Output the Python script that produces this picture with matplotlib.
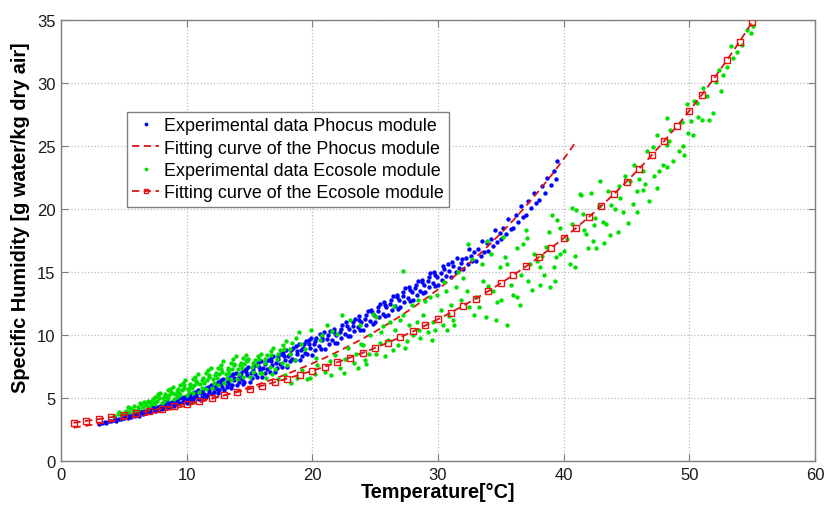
import matplotlib
matplotlib.use("Agg")
import matplotlib.pyplot as plt
from matplotlib.ticker import MultipleLocator

plt.rcParams['font.family'] = ['Liberation Sans', 'DejaVu Sans']

# ---------------- data ----------------
phocus_pts = [
    (3.0,2.95),(3.3,3.05),(3.6,3.0),(3.8,3.15),(3.5,3.1),
    (4.0,3.15),(4.2,3.25),(4.4,3.2),(4.6,3.35),(4.8,3.3),(4.3,3.4),(4.9,3.45),
    (5.0,3.4),(5.1,3.55),(5.3,3.45),(5.5,3.6),(5.6,3.5),(5.8,3.7),(5.9,3.55),(5.4,3.75),
    (6.0,3.65),(6.1,3.8),(6.2,3.6),(6.4,3.9),(6.5,3.75),(6.6,3.95),(6.8,3.8),(6.9,4.05),(6.3,4.0),
    (7.0,3.9),(7.1,4.1),(7.2,3.85),(7.4,4.2),(7.5,4.0),(7.6,4.3),(7.7,4.05),(7.9,4.35),(7.3,4.25),(7.8,4.15),
    (8.0,4.1),(8.1,4.4),(8.2,4.2),(8.3,4.5),(8.5,4.3),(8.6,4.6),(8.7,4.25),(8.8,4.7),(8.9,4.45),(8.4,4.75),
    (9.0,4.4),(9.1,4.75),(9.2,4.5),(9.3,4.9),(9.5,4.6),(9.6,5.0),(9.7,4.7),(9.8,5.1),(9.9,4.85),(9.4,5.15),
    (10.0,4.6),(10.1,5.0),(10.2,4.8),(10.3,5.3),(10.4,4.9),(10.5,5.4),(10.6,5.1),(10.7,5.5),(10.8,5.0),(10.9,5.6),(10.5,4.75),
    (11.0,4.95),(11.1,5.4),(11.2,5.1),(11.3,5.7),(11.4,5.3),(11.5,5.8),(11.6,5.2),(11.7,5.9),(11.8,5.5),(11.9,6.0),(11.5,5.05),
    (12.0,5.3),(12.1,5.8),(12.2,5.5),(12.3,6.1),(12.4,5.7),(12.5,6.3),(12.6,5.6),(12.7,6.4),(12.8,5.9),(12.9,6.5),(12.5,5.4),
    (13.0,5.6),(13.1,6.2),(13.2,5.9),(13.3,6.6),(13.4,6.1),(13.5,6.8),(13.6,6.0),(13.7,6.9),(13.8,6.4),(13.9,7.0),(13.5,5.8),
    (14.0,6.0),(14.1,6.6),(14.2,6.3),(14.3,7.0),(14.4,6.5),(14.5,7.2),(14.6,6.3),(14.7,7.3),(14.8,6.8),(14.9,7.5),(14.5,6.1),
    (15.0,6.3),(15.1,7.0),(15.2,6.6),(15.3,7.5),(15.4,6.9),(15.5,7.6),(15.6,6.7),(15.7,7.8),(15.8,7.2),(15.9,7.9),
    (16.0,6.7),(16.1,7.4),(16.2,7.0),(16.3,7.9),(16.4,7.3),(16.5,8.0),(16.6,7.1),(16.7,8.2),(16.8,7.6),(16.9,8.3),
    (17.0,7.1),(17.1,7.8),(17.2,7.4),(17.3,8.3),(17.4,7.7),(17.5,8.5),(17.6,7.5),(17.7,8.6),(17.8,8.0),(17.9,8.8),
    (18.0,7.5),(18.1,8.3),(18.2,7.9),(18.3,8.8),(18.4,8.1),(18.5,9.0),(18.6,8.0),(18.7,9.1),(18.8,8.5),(18.9,9.3),
    (19.0,8.0),(19.1,8.8),(19.2,8.3),(19.3,9.3),(19.4,8.6),(19.5,9.5),(19.6,8.5),(19.7,9.6),(19.8,9.0),(19.9,9.8),
    (20.0,8.4),(20.1,9.3),(20.2,8.8),(20.3,9.8),(20.5,9.1),(20.6,10.1),(20.7,8.9),(20.8,9.6),(20.9,10.2),
    (21.0,8.9),(21.2,9.7),(21.3,9.3),(21.4,10.3),(21.6,9.6),(21.7,10.5),(21.8,9.4),(21.9,10.0),
    (22.0,9.4),(22.2,10.2),(22.3,9.8),(22.4,10.8),(22.6,10.1),(22.7,11.0),(22.8,9.9),(22.9,10.5),
    (23.0,9.9),(23.2,10.7),(23.3,10.3),(23.4,11.3),(23.6,10.6),(23.7,11.5),(23.8,10.4),(23.9,11.0),
    (24.0,10.4),(24.2,11.3),(24.3,10.8),(24.4,11.9),(24.6,11.1),(24.7,12.0),(24.8,10.9),(24.9,11.6),
    (25.0,11.0),(25.2,11.9),(25.3,11.4),(25.4,12.5),(25.6,11.7),(25.7,12.6),(25.8,11.5),(25.9,12.2),
    (26.0,11.6),(26.2,12.5),(26.3,12.0),(26.4,13.1),(26.6,12.3),(26.7,13.2),(26.8,12.1),(26.9,12.8),
    (27.0,12.2),(27.2,13.1),(27.3,12.6),(27.4,13.7),(27.6,12.9),(27.7,13.8),(27.8,12.7),(27.9,13.4),
    (28.0,12.8),(28.2,13.7),(28.3,13.2),(28.4,14.3),(28.6,13.5),(28.7,14.4),(28.8,13.3),(28.9,14.0),
    (29.0,13.4),(29.2,14.3),(29.3,13.8),(29.4,14.9),(29.6,14.1),(29.7,15.0),(29.8,13.9),(29.9,14.6),
    (30.0,14.0),(30.2,14.9),(30.3,14.4),(30.4,15.5),(30.6,14.7),(30.8,15.6),(30.9,15.1),
    (31.0,14.6),(31.2,15.5),(31.4,15.0),(31.5,16.1),(31.7,15.3),(31.9,16.0),
    (32.0,15.2),(32.2,16.1),(32.4,15.6),(32.5,16.8),(32.7,15.9),(32.9,16.6),
    (33.0,15.9),(33.2,16.8),(33.4,16.3),(33.5,17.5),(33.7,16.6),(33.9,17.3),
    (34.0,16.7),(34.2,17.6),(34.4,17.1),(34.5,18.3),(34.7,17.4),(34.9,18.1),
    (35.0,17.6),(35.2,18.5),(35.4,18.0),(35.6,19.2),(35.8,18.4),
    (36.0,18.5),(36.2,19.5),(36.4,19.0),(36.6,20.2),(36.8,19.4),
    (37.0,19.5),(37.2,20.6),(37.4,20.1),(37.6,21.3),(37.8,20.5),
    (38.0,20.7),(38.3,21.8),(38.5,21.3),(38.7,22.5),
    (39.0,21.9),(39.2,23.0),(39.4,22.4),(39.5,23.8),
    # extra readings in the densest part of the cloud
    (8.25,4.35),(8.75,4.55),(9.25,4.65),(9.75,4.95),(10.25,5.05),(10.75,5.25),
    (11.25,5.45),(11.75,5.65),(12.25,5.9),(12.75,6.15),(13.25,6.35),(13.75,6.6),
    (14.25,6.8),(14.75,7.05),(15.25,7.25),(15.75,7.5),(16.25,7.7),(16.75,7.9),
    (17.25,8.1),(17.75,8.3),(18.25,8.5),(18.75,8.75),(19.25,9.0),(19.75,9.25),
    (20.25,9.5),(20.75,9.75),(21.25,10.0),(21.75,10.2),(22.25,10.5),(22.75,10.7),
    (23.25,11.0),(23.75,11.2),(24.25,11.55),(24.75,11.8),(25.25,12.2),(25.75,12.4),
    (26.25,12.8),(26.75,13.0),(27.25,13.4),(27.75,13.6),(28.25,14.0),(28.75,14.2),
    (29.25,14.6),(29.75,14.8),(30.5,15.2),(31.1,15.8),(31.8,15.7),(32.6,16.3),
]
phocus_T = [p[0] for p in phocus_pts]
phocus_q = [p[1] for p in phocus_pts]

ecosole_pts = [
    (4.2,3.6),(4.5,3.75),(4.8,3.7),(4.6,3.9),
    (5.0,3.8),(5.2,4.0),(5.4,3.9),(5.5,4.2),(5.7,4.05),(5.8,4.35),(5.3,4.3),
    (6.0,4.0),(6.1,4.3),(6.2,4.15),(6.4,4.5),(6.5,4.3),(6.6,4.7),(6.8,4.45),(6.9,4.8),(6.3,4.6),
    (7.0,4.3),(7.1,4.65),(7.2,4.5),(7.3,4.95),(7.4,4.7),(7.5,5.1),(7.6,4.8),(7.7,5.3),(7.8,5.0),(7.9,5.4),(7.5,4.55),
    (8.0,4.6),(8.1,5.0),(8.2,4.8),(8.3,5.3),(8.4,5.05),(8.5,5.6),(8.6,5.2),(8.7,5.75),(8.8,5.4),(8.9,5.9),(8.5,4.9),
    (9.0,4.9),(9.1,5.35),(9.2,5.1),(9.3,5.7),(9.4,5.4),(9.5,6.0),(9.6,5.6),(9.7,6.2),(9.8,5.8),(9.9,6.4),(9.5,5.2),
    (10.0,5.2),(10.1,5.7),(10.2,5.5),(10.3,6.1),(10.4,5.8),(10.5,6.5),(10.6,6.0),(10.7,6.7),(10.8,6.2),(10.9,6.9),(10.5,5.4),
    (11.0,5.5),(11.1,6.1),(11.2,5.8),(11.3,6.6),(11.4,6.2),(11.5,7.0),(11.6,6.4),(11.7,7.2),(11.8,6.7),(11.9,7.4),(11.5,5.7),
    (12.0,5.8),(12.1,6.5),(12.2,6.2),(12.3,7.0),(12.4,6.6),(12.5,7.4),(12.6,6.9),(12.7,7.6),(12.8,7.1),(12.9,7.9),(12.5,6.0),
    (13.0,6.2),(13.1,6.9),(13.2,6.6),(13.3,7.4),(13.4,7.0),(13.5,7.8),(13.6,7.3),(13.7,8.1),(13.8,7.6),(13.9,8.3),(13.5,6.4),
    (14.0,6.5),(14.1,7.3),(14.2,6.9),(14.3,7.8),(14.4,7.4),(14.5,8.2),(14.6,7.7),(14.7,8.4),(14.8,7.9),(14.9,8.1),(14.5,6.7),
    (15.0,6.7),(15.2,7.5),(15.3,7.1),(15.4,8.0),(15.6,7.6),(15.7,8.3),(15.8,7.0),(15.9,8.5),
    (16.0,7.0),(16.2,7.8),(16.3,6.6),(16.4,8.4),(16.6,7.5),(16.7,8.7),(16.8,6.9),(16.9,9.0),
    (17.0,7.3),(17.2,8.1),(17.3,6.5),(17.4,8.8),(17.6,7.8),(17.7,9.2),(17.8,6.8),(17.9,9.5),
    (18.0,7.6),(18.2,8.5),(18.3,6.2),(18.4,9.4),(18.6,8.0),(18.7,9.8),(18.8,6.6),(18.9,10.2),
    (19.1,9.3),(19.4,8.9),(19.6,6.5),(19.8,6.6),(19.2,7.2),(19.9,10.4),
    (20.2,6.9),(20.4,7.6),(20.6,9.6),(20.8,10.0),(20.3,8.2),
    (21.0,7.1),(21.2,10.8),(21.4,7.9),(21.6,10.3),(21.8,8.4),(21.5,6.8),
    (22.0,10.1),(22.2,7.4),(22.4,11.6),(22.6,8.1),(22.8,9.0),(22.5,7.0),
    (23.0,11.2),(23.3,7.8),(23.5,8.5),(23.8,10.8),(23.9,9.3),(23.6,7.4),
    (24.0,9.2),(24.2,8.0),(24.5,8.5),(24.6,10.0),(24.8,11.7),(24.3,7.7),
    (25.1,11.4),(25.1,8.5),(25.4,9.4),(25.6,10.7),(25.8,8.3),(25.5,10.2),
    (26.0,9.6),(26.2,11.0),(26.4,8.8),(26.6,10.4),(26.8,9.2),(26.5,12.3),
    (27.0,11.2),(27.2,15.1),(27.2,11.6),(27.5,9.5),(27.7,10.8),(27.9,12.4),(27.4,9.0),
    (28.0,10.0),(28.3,11.0),(28.4,12.8),(28.6,9.8),(28.8,11.6),(28.5,10.4),
    (29.0,12.7),(29.2,10.2),(29.4,13.0),(29.6,11.0),(29.9,13.2),(29.8,10.4),(29.5,9.6),
    (30.2,12.0),(30.4,10.8),(30.6,13.5),(30.7,10.4),(30.9,11.5),(30.5,14.2),
    (31.0,12.4),(31.2,11.2),(31.4,13.8),(31.6,15.0),(31.8,12.8),(31.3,10.8),
    (32.0,14.5),(32.3,13.5),(32.5,12.2),(32.7,16.0),(32.9,11.6),(32.4,17.2),
    (33.0,13.0),(33.3,12.2),(33.6,14.3),(33.9,17.5),(33.8,11.4),(33.5,15.6),
    (34.0,13.9),(34.4,13.5),(34.6,11.2),(34.9,15.4),(34.2,16.4),(34.7,12.6),
    (35.0,12.8),(35.3,16.2),(35.5,10.8),(35.5,15.6),(35.8,14.0),(35.2,17.8),
    (36.0,13.2),(36.3,16.9),(36.5,12.4),(36.8,17.2),(36.3,13.0),(36.6,14.8),
    (37.0,18.3),(37.1,17.7),(37.3,15.6),(37.6,16.4),(37.9,15.9),(37.5,13.6),(37.2,14.3),
    (38.1,14.0),(38.1,15.4),(38.4,14.8),(38.6,17.0),(38.9,13.8),(38.8,18.2),(38.3,16.3),
    (39.1,19.5),(39.2,15.4),(39.4,16.2),(39.5,19.1),(39.7,16.4),(39.7,18.5),(39.3,14.3),
    (40.0,16.7),(40.5,15.6),(40.7,18.8),(40.7,20.1),(40.9,16.3),(40.9,15.4),(40.3,17.6),
    (41.0,19.9),(41.3,21.2),(41.4,21.1),(41.6,18.3),(41.8,18.0),(41.9,16.9),(41.5,19.6),
    (42.2,21.3),(42.3,17.5),(42.5,19.3),(42.6,16.9),(42.8,20.2),(42.9,22.2),(42.4,18.7),
    (43.1,19.0),(43.4,18.8),(43.7,17.9),(43.8,20.3),(43.5,21.4),(43.2,17.3),
    (44.1,20.0),(44.3,18.2),(44.5,20.9),(44.7,19.8),(44.9,22.6),(44.4,21.8),
    (45.3,22.2),(45.5,20.4),(45.8,21.4),(45.8,19.8),(45.1,18.9),(45.6,23.5),
    (46.0,22.4),(46.3,23.0),(46.3,21.5),(46.6,24.6),(46.8,20.6),(46.5,22.0),
    (47.1,24.9),(47.4,21.7),(47.4,25.9),(47.6,23.0),(47.9,23.5),(47.2,22.6),
    (48.2,23.3),(48.2,25.1),(48.2,27.2),(48.4,25.4),(48.7,23.8),(48.5,26.3),
    (49.2,24.6),(49.5,25.0),(49.6,24.3),(49.8,28.3),(49.4,26.9),(49.9,26.0),
    (50.3,25.9),(50.4,28.6),(50.6,28.4),(50.7,27.3),(50.1,27.0),
    (51.0,27.1),(51.1,29.6),(51.6,27.1),(51.9,27.6),(51.4,29.0),
    (52.1,30.1),(52.4,31.0),(52.7,30.6),(52.5,29.4),
    (53.0,31.3),(53.5,32.0),(53.8,32.5),(53.3,32.9),
    (54.2,33.0),(54.6,34.2),(54.9,34.0),(55.1,34.5),
    # extra readings in the dense low-temperature cluster
    (6.75,4.6),(7.25,4.8),(7.75,5.15),(8.25,5.15),(8.75,5.5),(9.25,5.55),
    (9.75,6.0),(10.25,5.95),(10.75,6.35),(11.25,6.4),(11.75,6.85),(12.25,6.8),
    (12.75,7.3),(13.25,7.2),(13.75,7.7),(14.25,7.6),(14.75,8.0),(15.25,7.8),
    (15.75,8.1),(16.25,8.1),(16.75,8.4),(17.25,8.5),(17.75,8.9),(18.25,8.9),
]
ecosole_T = [p[0] for p in ecosole_pts]
ecosole_q = [p[1] for p in ecosole_pts]

phocus_fit_T = list(range(1, 42))
phocus_fit_q = [2.65, 2.80, 2.96, 3.13, 3.32, 3.51, 3.71, 3.93, 4.16, 4.40,
                4.66, 4.93, 5.21, 5.52, 5.84, 6.18, 6.53, 6.91, 7.32, 7.74,
                8.19, 8.67, 9.17, 9.71, 10.27, 10.87, 11.50, 12.17, 12.87, 13.62,
                14.41, 15.25, 16.14, 17.08, 18.07, 19.12, 20.23, 21.41, 22.65, 23.97,
                25.36]

ecosole_fit_T = list(range(1, 56))
ecosole_fit_q = [3.03, 3.18, 3.32, 3.48, 3.64, 3.80, 3.98, 4.16, 4.36, 4.56,
                 4.77, 4.99, 5.22, 5.46, 5.71, 5.98, 6.25, 6.54, 6.85, 7.16,
                 7.49, 7.84, 8.20, 8.58, 8.98, 9.39, 9.83, 10.28, 10.76, 11.25,
                 11.77, 12.32, 12.89, 13.48, 14.11, 14.76, 15.44, 16.16, 16.90, 17.69,
                 18.50, 19.36, 20.25, 21.19, 22.17, 23.19, 24.26, 25.39, 26.56, 27.79,
                 29.07, 30.42, 31.82, 33.29, 34.83]

labels = ["Experimental data Phocus module",
          "Fitting curve of the Phocus module",
          "Experimental data Ecosole module",
          "Fitting curve of the Ecosole module"]

# ---------------- figure ----------------
fig = plt.figure(figsize=(8.26, 5.06), dpi=100)
ax_bottom_px = 462
ax = fig.add_axes([61/826, 1-ax_bottom_px/506, (815-61)/826, (ax_bottom_px-21)/506])

ax.plot(phocus_T, phocus_q, '.', color='#0000ff', ms=4.3, label=labels[0], zorder=2)
ax.plot(phocus_fit_T, phocus_fit_q, '--', color='#e01010', lw=1.3, dashes=(4, 2.5),
        label=labels[1], zorder=3)
ax.plot(ecosole_T, ecosole_q, '.', color='#00e000', ms=4.3, label=labels[2], zorder=4)
ax.plot(ecosole_fit_T, ecosole_fit_q, '--', color='#d01818', lw=1.3, dashes=(4, 2.5),
        marker='s', ms=4.4, mfc='none', mec='#ee1010', mew=1.0,
        label=labels[3], zorder=5)

ax.set_xlim(0, 60)
ax.set_ylim(0, 35)
ax.xaxis.set_major_locator(MultipleLocator(10))
ax.yaxis.set_major_locator(MultipleLocator(5))
ax.grid(True, linestyle=':', color='#bcbcbc', lw=0.9)
ax.set_axisbelow(True)
for s in ax.spines.values():
    s.set_color('#808080')
    s.set_linewidth(1.0)
ax.tick_params(direction='in', length=5, color='#808080', top=True, right=True,
               labelsize=12, labelcolor='#1a1a1a')
ax.tick_params(axis='x', pad=4.5)
ax.tick_params(axis='y', pad=4)

ax.set_xlabel('Temperature[°C]', fontsize=14.3, fontweight='bold', labelpad=0)
ax.set_ylabel('Specific Humidity [g water/kg dry air]', fontsize=14.3, fontweight='bold')
ax.yaxis.set_label_coords(-0.041, 0.553)

h_axes = ax_bottom_px - 21
leg = ax.legend(loc='upper left', bbox_to_anchor=((127-61)/754, (ax_bottom_px-113)/h_axes),
                borderaxespad=0, fontsize=12.9, frameon=True, fancybox=False,
                edgecolor='#808080', framealpha=1, handlelength=1.5,
                handletextpad=0.25, labelspacing=0.3, borderpad=0.3, markerscale=0.8)
leg.get_frame().set_linewidth(1.0)

fig.savefig('out.png', dpi=100)
